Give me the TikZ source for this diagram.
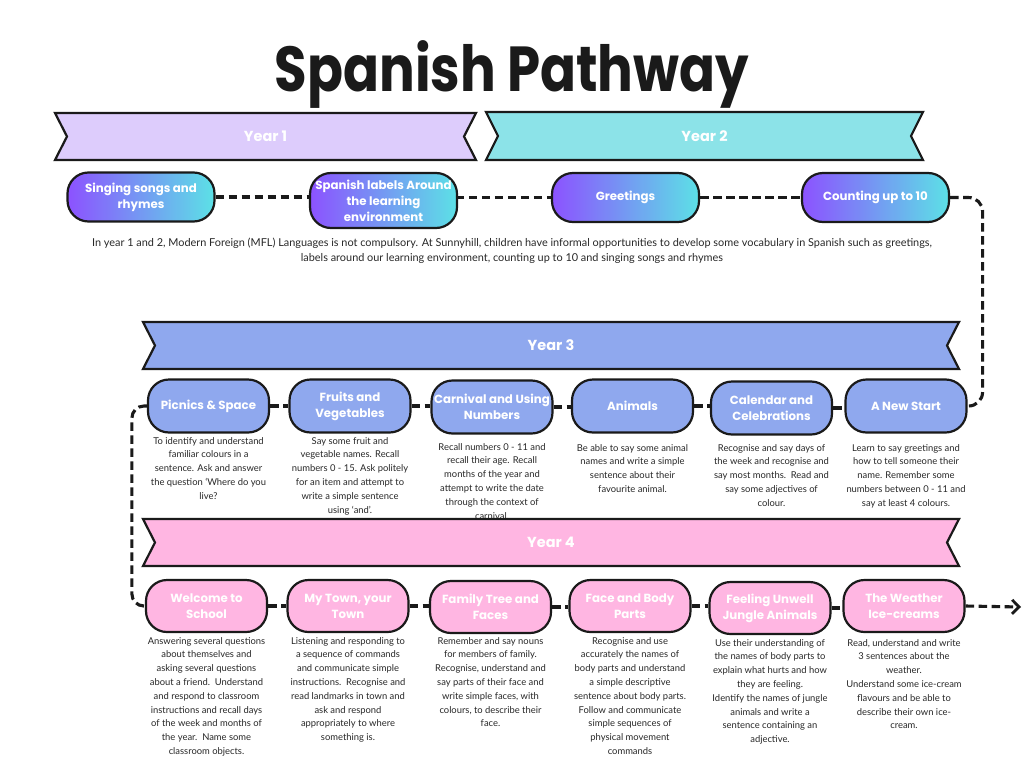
\documentclass[tikz,border=0pt]{standalone}
\usepackage{fontspec}
\setmainfont{Lato}
\newfontfamily\headfont{Poppins}
\usetikzlibrary{arrows.meta,calc}
\definecolor{lav}{RGB}{221,204,252}
\definecolor{cyanb}{RGB}{140,227,232}
\definecolor{peri}{RGB}{143,168,238}
\definecolor{pinkb}{RGB}{255,182,226}
\definecolor{gpurple}{RGB}{140,82,255}
\definecolor{gcyan}{RGB}{92,225,230}
\definecolor{ink}{RGB}{26,26,26}
\definecolor{txt}{RGB}{40,40,40}
\tikzset{
  topic/.style={draw=ink, line width=2.2pt, rounded corners=21pt, minimum height=52pt,
    align=center, text=white, inner sep=0pt,
    font=\headfont\bfseries\fontsize{11.8}{16}\selectfont},
  grad/.style={topic, left color=gpurple, right color=gcyan, minimum width=147pt, minimum height=49pt},
  yiii/.style={topic, fill=peri, minimum width=121pt, minimum height=53pt},
  yiv/.style={topic, fill=pinkb, minimum width=121pt, minimum height=52pt},
  conn/.style={draw=ink, line width=3.1pt, dash pattern=on 8.5pt off 4.5pt},
  desc/.style={align=center, text=txt, inner sep=0pt, anchor=north,
    font=\fontsize{9.4}{13.8}\selectfont},
  para/.style={align=center, text=txt, inner sep=0pt, anchor=north,
    font=\fontsize{10.9}{15}\selectfont},
  bannerlabel/.style={text=white, font=\headfont\bfseries\fontsize{14.5}{16}\selectfont},
  banner/.style={draw=ink, line width=2.2pt, line join=miter},
}
\newcommand\drawbanner[7]{% x1 x2 ytop ybot fill label name
  \filldraw[banner, fill=#5] (#1,#3) -- (#2,#3) -- (#2-12,{(#3+#4)/2}) -- (#2,#4)
    -- (#1,#4) -- (#1+12,{(#3+#4)/2}) -- cycle;
  \node[bannerlabel] (#7) at ({(#1+#2)/2},{(#3+#4)/2}) {#6};}
\begin{document}
\begin{tikzpicture}[x=1pt,y=-1pt]
\fill[white] (0,0) rectangle (1024,768);
\useasboundingbox (0,0) rectangle (1024,768);

% title
\node[text=ink, font=\headfont\bfseries\fontsize{53}{60}\selectfont] (title) at (512,74) {\scalebox{1}[1.2]{Spanish Pathway}};

% Year 1 / 2
\drawbanner{55}{476}{113}{160}{lav}{Year 1}{y1}
\drawbanner{486}{923}{112}{160}{cyanb}{Year 2}{y2}

\node[grad] (s1) at (141,197) {Singing songs and\\rhymes};
\node[grad, minimum height=55pt] (s2) at (383.5,200.5) {Spanish labels Around\\the learning\\environment};
\node[grad] (s3) at (625.5,197.5) {Greetings};
\node[grad] (s4) at (875.5,197.5) {Counting up to 10};

\draw[conn] (s1.east) -- (s1.east -| s2.west);
\draw[conn] (s2.west |- s3.west) ++(147,0) -- (s3.west);
\draw[conn] (s3.east) -- (s4.west);

\node[para] (p12) at (512,238) {In year 1 and 2, Modern Foreign (MFL) Languages is not compulsory. At Sunnyhill, children have informal opportunities to develop some vocabulary in Spanish such as greetings,\\labels around our learning environment, counting up to 10 and singing songs and rhymes};

% Year 3
\drawbanner{143}{959}{322}{369}{peri}{Year 3}{y3}
\node[yiii] (t1) at (208.5,406) {Picnics \& Space};
\node[yiii] (t2) at (350,406) {Fruits and\\Vegetables};
\node[yiii] (t3) at (492,407) {Carnival and Using\\Numbers};
\node[yiii] (t4) at (632.5,406) {Animals};
\node[yiii] (t5) at (771.5,408) {Calendar and\\Celebrations};
\node[yiii] (t6) at (906,406) {A New Start};

\draw[conn] (t1.east) -- (t2.west);
\draw[conn] (t2.east) -- (t2.east -| t3.west);
\draw[conn] (t3.east) -- (t3.east -| t4.west);
\draw[conn] (t4.east) -- (t4.east -| t5.west);
\draw[conn] (t5.east) -- (t5.east -| t6.west);
\draw[conn, rounded corners=14pt] (s4.east) -| ([xshift=15pt]t6.east) -- (t6.east);

\node[desc] (d1) at (208.5,437) {To identify and understand\\familiar colours in a\\sentence. Ask and answer\\the question ‘Where do you\\live?};
\node[desc] (d2) at (350,437) {Say some fruit and\\vegetable names. Recall\\numbers 0 - 15. Ask politely\\for an item and attempt to\\write a simple sentence\\using ‘and’.};
\node[desc] (d3) at (492,443) {Recall numbers 0 - 11 and\\recall their age. Recall\\months of the year and\\attempt to write the date\\through the context of\\carnival.};
\node[desc] (d4) at (632.5,444) {Be able to say some animal\\names and write a simple\\sentence about their\\favourite animal.};
\node[desc] (d5) at (771.5,444) {Recognise and say days of\\the week and recognise and\\say most months.\ \ Read and\\say some adjectives of\\colour.};
\node[desc] (d6) at (906,444) {Learn to say greetings and\\how to tell someone their\\name. Remember some\\numbers between 0 - 11 and\\say at least 4 colours.};

% Year 4
\drawbanner{143}{959}{519}{566}{pinkb}{Year 4}{y4}
\node[yiv] (u1) at (206.5,606) {Welcome to\\School};
\node[yiv] (u2) at (348,606) {My Town, your\\Town};
\node[yiv] (u3) at (490.5,607) {Family Tree and\\Faces};
\node[yiv] (u4) at (630,606) {Face and Body\\Parts};
\node[yiv] (u5) at (770,608) {Feeling Unwell\\Jungle Animals};
\node[yiv] (u6) at (904,606) {The Weather\\Ice-creams};

\draw[conn] (u1.east) -- (u2.west);
\draw[conn] (u2.east) -- (u2.east -| u3.west);
\draw[conn] (u3.east) -- (u3.east -| u4.west);
\draw[conn] (u4.east) -- (u4.east -| u5.west);
\draw[conn] (u5.east) -- (u5.east -| u6.west);
\draw[conn, rounded corners=12pt] (t1.west) -| ([xshift=-13pt]u1.west) -- (u1.west);
\coordinate (arrowend) at (1021,607);
\draw[conn, -{Straight Barb[length=7pt,width=14pt,line width=2.8pt]}] (u6.east) -- (arrowend);

\node[desc] (e1) at (206.5,637) {Answering several questions\\about themselves and\\asking several questions\\about a friend.\ \ Understand\\and respond to classroom\\instructions and recall days\\of the week and months of\\the year.\ \ Name some\\classroom objects.};
\node[desc] (e2) at (348,637) {Listening and responding to\\a sequence of commands\\and communicate simple\\instructions.\ \ Recognise and\\read landmarks in town and\\ask and respond\\appropriately to where\\something is.};
\node[desc] (e3) at (490.5,637) {Remember and say nouns\\for members of family.\\Recognise, understand and\\say parts of their face and\\write simple faces, with\\colours, to describe their\\face.};
\node[desc] (e4) at (630,637) {Recognise and use\\accurately the names of\\body parts and understand\\a simple descriptive\\sentence about body parts.\\Follow and communicate\\simple sequences of\\physical movement\\commands};
\node[desc] (e5) at (770,639) {Use their understanding of\\the names of body parts to\\explain what hurts and how\\they are feeling.\\Identify the names of jungle\\animals and write a\\sentence containing an\\adjective.};
\node[desc] (e6) at (904,639) {Read, understand and write\\3 sentences about the\\weather.\\Understand some ice-cream\\flavours and be able to\\describe their own ice-\\cream.};
\end{tikzpicture}
\end{document}
